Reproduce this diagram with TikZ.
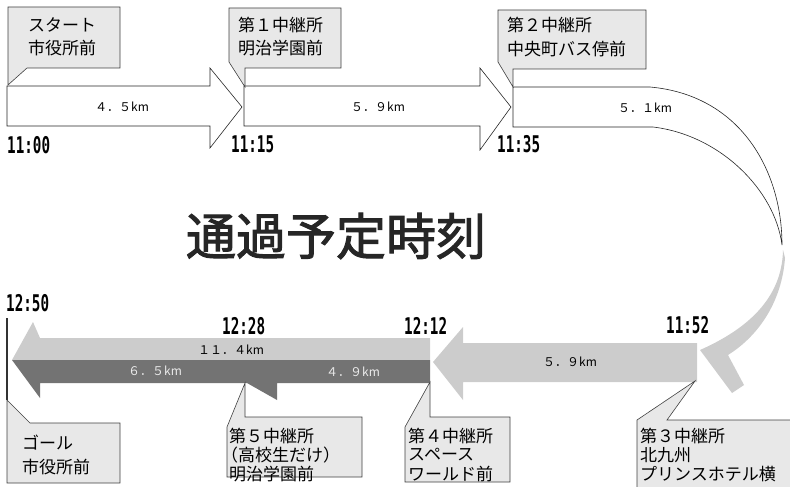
\documentclass[tikz,border=0pt]{standalone}
\usepackage{fontspec}
\newfontfamily\cjk{Noto Sans CJK JP}
\newfontfamily\timefont[FakeStretch=0.62]{DejaVu Sans Mono}
\newfontfamily\titlefont[FakeBold=2]{Noto Sans CJK JP}
\begin{document}
\begin{tikzpicture}[x=1pt,y=-1pt,
  callout/.style={draw=black!75, fill=black!9, line width=0.6pt},
  rbox/.style={draw=black!85, fill=white, line width=0.6pt},
  litefill/.style={fill=black!20},
  darkfill/.style={fill=black!55},
  lbl/.style={anchor=west, inner sep=0pt, font=\cjk\fontsize{17}{17}\selectfont},
  dist/.style={inner sep=0pt, font=\cjk\fontsize{12}{12}\selectfont},
  tm/.style={anchor=west, inner sep=0pt, font=\timefont\bfseries\fontsize{23}{23}\selectfont}]
\useasboundingbox (0,0) rectangle (790,487);
\clip (0,0) rectangle (790,487);

% ---------- top row arrows ----------
\path[rbox] (7,86) -- (210,86) -- (210,68) -- (242,107) -- (210,148) -- (210,126) -- (7,126) -- cycle;
\path[rbox] (244,86) -- (480,86) -- (480,68) -- (511,107) -- (480,150) -- (480,126) -- (244,126) -- cycle;
% U-turn, lower half (light)
\path[litefill] (783,250) .. controls (782,300) and (745,330) .. (700,350) -- (732,393) -- (744,385)
  -- (728,355) .. controls (760,335) and (782,300) .. (785,258) -- cycle;
% U-turn, upper half
\path[rbox] (513,87) -- (650,87) .. controls (740,95) and (782,170) .. (782,245)
  .. controls (775,190) and (720,135) .. (653,127) -- (513,127) -- cycle;

% ---------- bottom row arrows ----------
\path[litefill] (697,343) -- (463,343) -- (463,327) -- (433,362) -- (463,400) -- (463,382) -- (697,382) -- cycle;
\path[litefill] (430,338) -- (40,338) -- (33,322) -- (12,360) -- (430,360) -- cycle;
\path[darkfill] (430,360) -- (430,383) -- (277,383) -- (277,400) -- (247,383) -- (40,383) -- (40,398) -- (12,360) -- cycle;

% goal line
\draw[line width=1.4pt, black!80] (7,318) -- (7,400);

% ---------- callouts ----------
\path[callout] (8,7) -- (120,7) -- (120,68) -- (27,68) -- (8,85) -- cycle;
\path[callout] (229,8) -- (341,8) -- (341,68) -- (245,68) -- (245,87) -- (229,62) -- cycle;
\path[callout] (498,10) -- (646,10) -- (646,69) -- (513,69) -- (513,87) -- (498,62) -- cycle;
\path[callout] (7,400) -- (30,423) -- (120,423) -- (120,483) -- (7,483) -- cycle;
\path[callout] (227,477) -- (227,427) -- (245,383) -- (245,417) -- (362,417) -- (362,477) -- cycle;
\path[callout] (405,482) -- (405,427) -- (430,382) -- (430,417) -- (510,417) -- (510,482) -- cycle;
\path[callout] (637,492) -- (637,420) -- (695,381) -- (667,420) -- (792,420) -- (792,492) -- cycle;

% ---------- callout texts ----------
\node[lbl] (s1) at (28,25) {スタート};
\node[lbl] (s2) at (28,48) {市役所前};
\node[lbl] (r1a) at (238,25) {第１中継所};
\node[lbl] (r1b) at (238,48) {明治学園前};
\node[lbl] (r2a) at (507,25) {第２中継所};
\node[lbl] (r2b) at (507,49) {中央町バス停前};
\node[lbl] (g1) at (22,443) {ゴール};
\node[lbl] (g2) at (22,467) {市役所前};
\node[lbl] (r5a) at (229,436) {第５中継所};
\node[lbl] (r5b) at (221,455) {（高校生だけ）};
\node[lbl] (r5c) at (229,474) {明治学園前};
\node[lbl] (r4a) at (408,436) {第４中継所};
\node[lbl] (r4b) at (408,455) {スペース};
\node[lbl] (r4c) at (408,474) {ワールド前};
\node[lbl] (r3a) at (640,436) {第３中継所};
\node[lbl] (r3b) at (640,455) {北九州};
\node[lbl] (r3c) at (640,474) {プリンスホテル横};

% ---------- distances ----------
\node[dist] (d1) at (122,107) {４．５km};
\node[dist] (d2) at (378,107) {５．９km};
\node[dist] (d3) at (645,108) {５．１km};
\node[dist] (d4) at (570,362) {５．９km};
\node[dist] (d5) at (231,350) {１１．４km};
\node[dist, text=black!8] (d6) at (155,371) {６．５km};
\node[dist, text=black!8] (d7) at (353,372) {４．９km};

% ---------- times ----------
\node[tm] (t1) at (7,145) {11:00};
\node[tm] (t2) at (231,144) {11:15};
\node[tm] (t3) at (497,144) {11:35};
\node[tm] (t4) at (6,303) {12:50};
\node[tm] (t5) at (222,326) {12:28};
\node[tm] (t6) at (404,326) {12:12};
\node[tm] (t7) at (666,325) {11:52};

% ---------- title ----------
\node[inner sep=0pt, text=black!85, font=\titlefont\fontsize{50}{50}\selectfont] (title) at (336,236) {通過予定時刻};
\end{tikzpicture}
\end{document}
